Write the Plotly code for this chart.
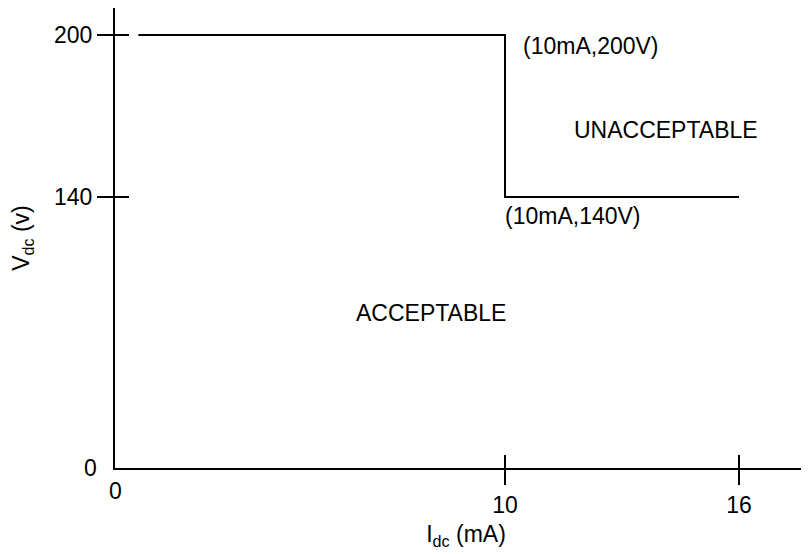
import plotly.graph_objects as go

# boundary between acceptable / unacceptable operating region
boundary_idc = [0.6, 10, 10, 16]
boundary_vdc = [200, 200, 140, 140]

x_ticks = [10, 16]
y_ticks = [140, 200]

FONT = dict(family="Liberation Sans, Arial, sans-serif", size=23, color="black")

fig = go.Figure()

fig.add_trace(go.Scatter(
    x=boundary_idc,
    y=boundary_vdc,
    mode='lines',
    line=dict(color='black', width=2),
    hoverinfo='skip',
    showlegend=False
))

# dummy trace so the overlay axes get drawn (crossing tick marks)
fig.add_trace(go.Scatter(
    x=[None], y=[None], xaxis='x2', yaxis='y2',
    showlegend=False, hoverinfo='skip'
))

axis_common = dict(showgrid=False, zeroline=False, linecolor='black', linewidth=2,
                   tickcolor='black', tickwidth=2, tickfont=FONT, automargin=False)

X_RANGE = [0, 18]
Y_RANGE = [39.6, 210]

fig.update_layout(
    width=809, height=554,
    plot_bgcolor='white', paper_bgcolor='white',
    margin=dict(l=107, r=0, t=0, b=94),
    font=FONT,
    xaxis=dict(range=X_RANGE, tickvals=x_ticks, ticks='outside', ticklen=15,
               showline=True, mirror=False,
               title=dict(text="I<sub>dc</sub> (mA)", font=FONT, standoff=9),
               **axis_common),
    yaxis=dict(range=Y_RANGE, tickvals=y_ticks, ticks='outside', ticklen=16,
               showline=True, mirror=False,
               title=dict(text="V<sub>dc</sub> (v)", font=FONT, standoff=20),
               **axis_common),
    xaxis2=dict(range=X_RANGE, tickvals=x_ticks, ticks='inside', ticklen=13,
                overlaying='x', showticklabels=False, showline=False, anchor='y2',
                showgrid=False, zeroline=False, tickcolor='black', tickwidth=2),
    yaxis2=dict(range=Y_RANGE, tickvals=y_ticks, ticks='inside', ticklen=14,
                overlaying='y', showticklabels=False, showline=False, anchor='x2',
                showgrid=False, zeroline=False, tickcolor='black', tickwidth=2),
)

# origin labels
fig.add_annotation(x=0, y=0, xref='paper', yref='paper', text="0", showarrow=False,
                   xanchor='right', yanchor='middle', xshift=-16, font=FONT)
fig.add_annotation(x=0, y=0, xref='paper', yref='paper', text="0", showarrow=False,
                   xanchor='center', yanchor='top', yshift=-8, font=FONT)

# region / corner labels
fig.add_annotation(x=10.41, y=196, text="(10mA,200V)", showarrow=False,
                   xanchor='left', yanchor='middle', font=FONT)
fig.add_annotation(x=14.13, y=164.8, text="UNACCEPTABLE", showarrow=False,
                   xanchor='center', yanchor='middle', font=FONT)
fig.add_annotation(x=9.95, y=133, text="(10mA,140V)", showarrow=False,
                   xanchor='left', yanchor='middle', font=FONT)
fig.add_annotation(x=8.1, y=97, text="ACCEPTABLE", showarrow=False,
                   xanchor='center', yanchor='middle', font=FONT)

fig.write_html("out.html")
